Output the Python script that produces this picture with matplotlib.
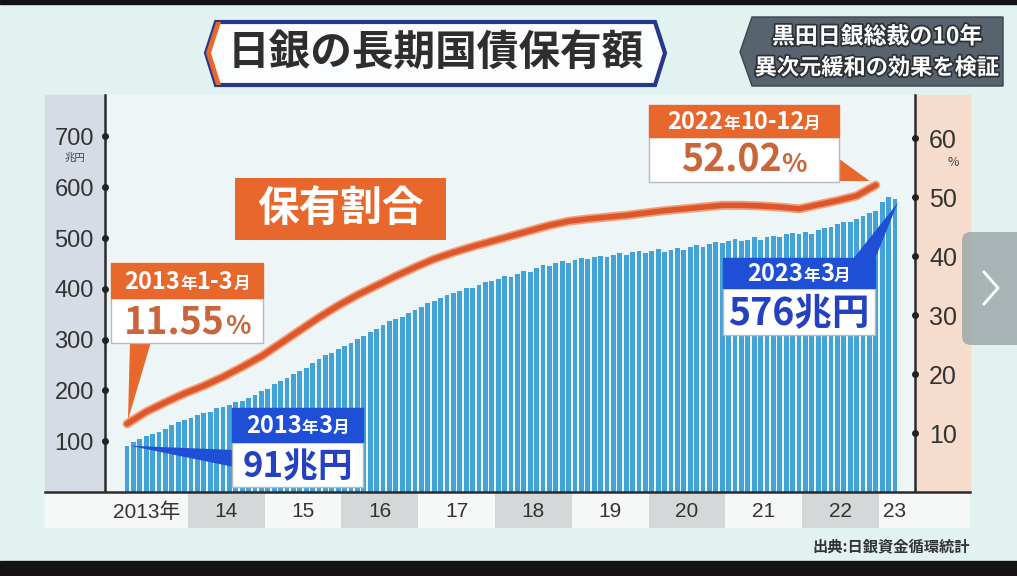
import numpy as np
import matplotlib.pyplot as plt
from matplotlib.patches import Polygon, Rectangle, FancyBboxPatch
import matplotlib.patheffects as pe

plt.rcParams['font.family'] = ['Noto Sans CJK JP', 'DejaVu Sans']

# 長期国債保有額（兆円）, 月次 2013年3月〜2023年3月
holdings = [
    91, 98, 105, 110, 115, 119, 124, 131, 137, 142,                      # 2013
    146, 151, 155, 158, 165, 168, 172, 177, 180, 185, 191, 198,          # 2014
    202, 213, 218, 225, 232, 238, 245, 253, 261, 269, 274, 281,          # 2015
    287, 294, 301, 307, 314, 320, 328, 336, 340, 345, 352, 358,          # 2016
    365, 372, 376, 382, 388, 391, 396, 402, 401, 408, 414, 415,          # 2017
    420, 426, 423, 430, 436, 434, 440, 447, 445, 451, 454, 451,          # 2018
    457, 461, 458, 462, 465, 463, 467, 470, 466, 472, 475, 471,          # 2019
    475, 478, 473, 476, 480, 476, 482, 486, 483, 488, 492, 490,          # 2020
    494, 499, 495, 497, 501, 497, 501, 504, 501, 507, 510, 507,          # 2021
    512, 508, 515, 519, 522, 527, 531, 532, 537, 543, 549, 553,          # 2022
    570, 581, 576,                                                       # 2023
]

# 保有割合（%）, 四半期 2013年1-3月〜2022年10-12月
share = [
    11.55, 13.6, 15.2, 16.7, 18.0, 19.5, 21.2, 23.0, 25.2, 27.4,
    29.6, 31.6, 33.4, 35.0, 36.6, 38.1, 39.5, 40.6, 41.6, 42.5,
    43.4, 44.3, 45.2, 45.9, 46.3, 46.6, 46.9, 47.3, 47.7, 48.0,
    48.3, 48.6, 48.6, 48.5, 48.3, 48.0, 48.7, 49.4, 50.2, 52.02,
]

year_labels = ['2013年', '14', '15', '16', '17', '18', '19', '20', '21', '22', '23']
left_ticks = [100, 200, 300, 400, 500, 600, 700]
right_ticks = [10, 20, 30, 40, 50, 60]

months = np.arange(len(holdings))          # 0 = 2013年3月
quarters = np.arange(len(share)) * 3       # 四半期末の月

W, H = 1017, 576
fig = plt.figure(figsize=(W / 100, H / 100), dpi=100, facecolor='#e2f2f1')


def frac(x0, y0, x1, y1):
    return [x0 / W, 1 - y1 / H, (x1 - x0) / W, (y1 - y0) / H]


def px2k(p):
    # pixel -> month index (bar 0 sits at x=127, 6.4 px per month)
    return (p - 127) / 6.4


# ---- background layer
bg = fig.add_axes([0, 0, 1, 1])
bg.set_xlim(0, W)
bg.set_ylim(H, 0)
bg.axis('off')
bg.set_zorder(0)

bg.add_patch(Rectangle((0, 0), W, 4, color='#111111'))
bg.add_patch(Rectangle((0, 561), W, 15, color='#141414'))
bg.add_patch(Rectangle((45, 95), 60, 397, color='#d6dce5'))
bg.add_patch(Rectangle((915, 95), 55, 397, color='#f5dccd'))

# title
bg.add_patch(Polygon([(216, 22), (655, 22), (665, 53), (655, 85), (216, 85), (206, 53)],
                     closed=True, fc='#fbfdfe', ec='#27378a', lw=3))
bg.add_patch(Polygon([(206, 53), (216, 22), (221, 22), (211, 53), (221, 85), (216, 85)],
                     closed=True, fc='#e8672c', ec='none'))
bg.text(436, 54, '日銀の長期国債保有額', fontsize=30, fontweight='bold', color='#2e2e2e',
        ha='center', va='center')

bg.add_patch(Polygon([(752, 17), (1003, 17), (1003, 86), (752, 86), (740, 52)],
                     closed=True, fc='#57636e', ec='#3c454e', lw=1))
stroke = [pe.withStroke(linewidth=2.5, foreground='#2c2f33')]
bg.text(877, 37, '黒田日銀総裁の10年', fontsize=16.5, fontweight='bold', color='white',
        ha='center', va='center', path_effects=stroke)
bg.text(877, 68, '異次元緩和の効果を検証', fontsize=16, fontweight='bold', color='white',
        ha='center', va='center', path_effects=stroke)

bg.text(970, 546, '出典:日銀資金循環統計', fontsize=11, fontweight='bold', color='#333333',
        ha='right', va='center')
bg.text(75, 158, '兆円', fontsize=7.5, color='#444444', ha='center', va='center')
bg.text(953, 162, '%', fontsize=9, color='#444444', ha='center', va='center')

# ---- main chart
ax = fig.add_axes(frac(105, 95, 915, 492))
ax.set_zorder(1)
ax.set_facecolor('#eef5f7')
ax.bar(months, holdings, width=0.72, color='#43a3d8', zorder=2)
ax.set_xlim(px2k(105), px2k(915))
ax.set_ylim(0, 781.5)
ax.set_xticks([])
ax.set_yticks(left_ticks)
ax.tick_params(axis='y', length=0, pad=8, labelsize=17, labelcolor='#333333')
for lbl in ax.get_yticklabels():
    lbl.set_fontfamily('Liberation Sans')
for s in ['top', 'bottom']:
    ax.spines[s].set_visible(False)
for s in ['left', 'right']:
    ax.spines[s].set_color('#2b2b2b')
    ax.spines[s].set_linewidth(1.8)
ax.plot(np.zeros(len(left_ticks)), left_ticks, 'o', ms=4, color='#222222',
        transform=ax.get_yaxis_transform(), clip_on=False, zorder=5)

ax2 = ax.twinx()
ax2.set_zorder(2)
ax2.set_ylim(0, 67.3)
ax2.plot(quarters, share, color='#dc572b', lw=4, solid_capstyle='round',
         path_effects=[pe.Stroke(linewidth=6.5, foreground='#f3a07a'), pe.Normal()])
ax2.set_yticks(right_ticks)
ax2.tick_params(axis='y', length=0, pad=10, labelsize=18, labelcolor='#333333')
for lbl in ax2.get_yticklabels():
    lbl.set_fontfamily('Liberation Sans')
for s in ax2.spines.values():
    s.set_visible(False)
ax2.plot(np.ones(len(right_ticks)), right_ticks, 'o', ms=4, color='#222222',
         transform=ax2.get_yaxis_transform(), clip_on=False, zorder=5)

# ---- year band
axb = fig.add_axes(frac(45, 492, 970, 528))
axb.set_zorder(1)
axb.set_xlim(px2k(45), px2k(970))
axb.set_ylim(0, 1)
axb.set_yticks([])
bounds = [px2k(45)] + [(y - 2013) * 12 - 2.5 for y in range(2014, 2024)] + [px2k(970)]
for i in range(len(bounds) - 1):
    axb.axvspan(bounds[i], bounds[i + 1], color='#f6f7f7' if i % 2 == 0 else '#d5d8d8', lw=0)
pos = [3.0] + [(bounds[i] + bounds[i + 1]) / 2 for i in range(1, 10)] + [months[-1]]
axb.set_xticks(pos, year_labels)
axb.tick_params(axis='x', length=0, pad=-18.5, labelsize=15, labelcolor='#333333')
for lbl in axb.get_xticklabels():
    lbl.set_fontfamily(['Liberation Sans', 'Noto Sans CJK JP'])
for s in ['left', 'right', 'bottom']:
    axb.spines[s].set_visible(False)
axb.spines['top'].set_color('#2b2b2b')
axb.spines['top'].set_linewidth(1.8)

# ---- foreground annotations
fg = fig.add_axes([0, 0, 1, 1])
fg.set_xlim(0, W)
fg.set_ylim(H, 0)
fg.axis('off')
fg.set_zorder(5)
renderer = fig.canvas.get_renderer()


def to_px(a, x, y):
    dx, dy = a.transData.transform((x, y))
    return dx, H - dy


def rich_text(xc, y, parts, color):
    items, x = [], 0
    for s, size in parts:
        t = fg.text(x, y, s, fontsize=size, color=color, fontweight='bold',
                    ha='left', va='baseline')
        items.append((t, x))
        x += t.get_window_extent(renderer).width
    for t, xo in items:
        t.set_x(xc - x / 2 + xo)


def callout(x0, x1, ytop, ymid, ybot, color, head, hbase, body, bbase, bcolor):
    fg.add_patch(Rectangle((x0, ymid), x1 - x0, ybot - ymid, fc='white', ec='#b9b9b9', lw=1, zorder=3))
    fg.add_patch(Rectangle((x0, ytop), x1 - x0, ymid - ytop, fc=color, ec=color, lw=1, zorder=3))
    rich_text((x0 + x1) / 2, hbase, head, 'white')
    rich_text((x0 + x1) / 2, bbase, body, bcolor)


orange = '#e8672c'
blue = '#1f4fd6'

p = to_px(ax2, quarters[0], share[0])
fg.add_patch(Polygon([(130, 342), (151, 342), (p[0] + 1, p[1] - 4)], fc=orange, ec='none', zorder=2))
p = to_px(ax2, quarters[-1], share[-1])
fg.add_patch(Polygon([(838, 158), (838, 181), (p[0] - 6, p[1] - 4)], fc=orange, ec='none', zorder=2))
p = to_px(ax, months[0], holdings[0])
fg.add_patch(Polygon([(234, 450), (234, 467), (p[0] + 3, p[1])], fc=blue, ec='none', zorder=2))
p = to_px(ax, months[-1], holdings[-1])
fg.add_patch(Polygon([(853, 259), (875, 259), (p[0] + 3, p[1] + 3)], fc=blue, ec='none', zorder=2))

callout(111, 263, 263, 298, 343, orange,
        [('2013', 17), ('年', 12), ('1-3', 17), ('月', 12)], 289,
        [('11.55', 27), ('%', 19)], 334, '#c9653b')
callout(649, 839, 105, 137, 182, orange,
        [('2022', 17), ('年', 12), ('10-12', 17), ('月', 12)], 129,
        [('52.02', 27), ('%', 19)], 172, '#c9653b')
callout(232, 363, 408, 442, 487, blue,
        [('2013', 17), ('年', 12), ('3', 17), ('月', 12)], 433,
        [('91兆円', 25)], 477, '#2341c0')
callout(723, 875, 258, 288, 335, blue,
        [('2023', 17), ('年', 12), ('3', 17), ('月', 12)], 281,
        [('576兆円', 27)], 325, '#2341c0')

fg.add_patch(Rectangle((235, 178), 211, 62, fc=orange, ec='none', zorder=3))
fg.text(340.5, 209, '保有割合', fontsize=30, fontweight='bold', color='white',
        ha='center', va='center', zorder=4)

# slideshow arrow button of the screenshot
fg.add_patch(FancyBboxPatch((962, 232), 70, 113, boxstyle='round,pad=0,rounding_size=9',
                            fc='#9aa5a6', ec='none', alpha=0.8, zorder=3))
fg.plot([984, 998, 984], [272, 288, 304], color='white', lw=2, zorder=4)

fig.savefig('out.png', dpi=100, facecolor=fig.get_facecolor())
